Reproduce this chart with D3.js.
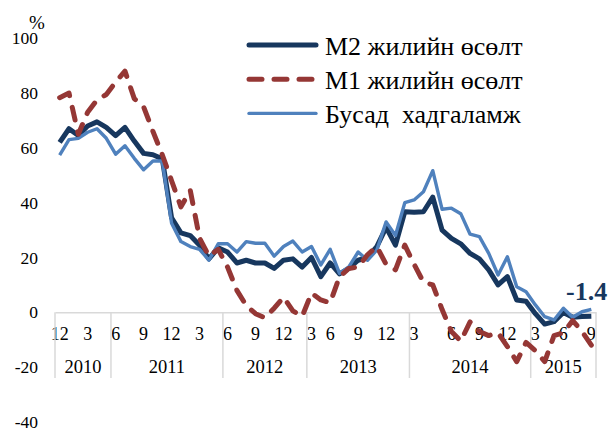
<!DOCTYPE html>
<meta charset="utf-8">
<style>

body {
  margin: 0;
  background: #fff;
}

text {
  font-family: "Liberation Serif", "Times New Roman", serif;
  fill: #000;
}

.axis path {
  fill: none;
  stroke: #d9d9d9;
  stroke-width: 1.5px;
}

.series {
  fill: none;
  stroke-linejoin: round;
}

</style>
<body>
<script src="https://cdn.jsdelivr.net/npm/d3@7"></script>
<script type="text/javascript">

// --------------------------- data --------------------------
// 58 monthly points, Dec 2009 .. Sep 2015 (grouped the way the source sheet groups them)
var m2 = [62, 67, 64.5, 68, 69.5, 67.5, 64.5, 67.5, 62.5, 58, 57.5, 56,
          34.5, 29, 28, 24.5, 19.5, 23.5, 22, 18, 19, 18, 18, 16,
          19, 19.5, 16.5, 20, 13, 18, 14, 16, 19, 20, 24, 31,
          24.5, 36.7, 36.5, 36.7, 42, 30, 27, 25, 21.5, 19.5, 15.5, 10,
          13, 4.5, 4, -0.5, -4.3, -3.4, -0.1, -1.8, -1.5, -1.4];

var m1 = [78.3, 80, 65, 73, 77.5, 79.5, 84, 88, 78, 75, 66, 57.5,
          48, 38.5, 44.5, 27, 20.5, 23, 16.5, 8, 2.5, -0.5, -2, 1.5,
          5.5, 0.5, -1.5, 7, 4.5, 3.5, 13, 16, 16.5, 21, 24, 17.5,
          15.5, 24.5, 17.5, 11, 10, 1, -7, -10.5, -3.5, -7, -8.5, -7.5,
          -12.5, -18, -11, -14, -18, -8.5, -7.5, -3, -7, -12];

var other = [57.4, 63, 63.5, 65.7, 67, 63.5, 57.7, 60.8, 56.2, 52, 55.2, 55.2,
             32.5, 25.8, 24, 23, 19, 25, 25, 22, 25.8, 25.2, 25.2, 20.5,
             24, 26, 22, 24, 17.3, 23, 14.2, 16.6, 22, 19, 22.7, 33,
             28, 40, 41, 44, 51.7, 37.6, 38, 36, 28.5, 27.6, 21.5, 13.6,
             20.3, 9.3, 7.5, 2.7, -1.6, -2.8, 1.5, -1.8, 0.2, 1.1];

// month labels that are shown, and the category they sit under
var tickAt   = [0, 3, 6, 9, 12, 15, 18, 21, 24, 27, 29, 32, 35, 38, 42, 45, 48, 51, 54, 57];
var tickText = ["12", "3", "6", "9", "12", "3", "6", "9", "12", "3", "6", "9", "12", "3", "6", "9", "12", "3", "6", "9"];

var years     = ["2010", "2011", "2012", "2013", "2014", "2015"];
var yearStart = [0, 6, 18, 27, 38, 51];

var yTicks = [-40, -20, 0, 20, 40, 60, 80, 100];

var seriesNames = ["M2 жилийн өсөлт", "M1 жилийн өсөлт", "Бусад  хадгаламж"];
var lastLabel = "-1.4";

// --------------------------- chart --------------------------
var width = 609, height = 428;
var n = m2.length;

var svg = d3.select("body").append("svg")
    .attr("width", width)
    .attr("height", height);

var x = d3.scaleBand()
    .domain(d3.range(n))
    .range([55, 596]);

var y = d3.scaleLinear()
    .domain([-40, 100])
    .range([421.9, 38.3]);

function cx(i) { return x(i) + x.bandwidth() / 2; }

// y labels only, no axis line (plain hyphen, as in the source)
var yAxis = svg.append("g")
    .attr("class", "y axis")
    .attr("transform", "translate(40,0)")
    .call(d3.axisLeft(y).tickValues(yTicks).tickSize(0).tickPadding(2)
      .tickFormat(function(d) { return String(d); }));
yAxis.attr("font-family", null);
yAxis.select(".domain").remove();
yAxis.selectAll("text")
    .style("font-size", "17.5px")
    .attr("dy", "0.32em");

svg.append("text")
    .attr("x", 29)
    .attr("y", 29)
    .style("font-size", "19px")
    .text("%");

// category axis sits on zero
var xAxis = svg.append("g")
    .attr("class", "x axis")
    .attr("transform", "translate(0," + y(0) + ")")
    .call(d3.axisBottom(x)
      .tickValues(tickAt)
      .tickFormat(function(d) { return tickText[tickAt.indexOf(d)]; })
      .tickSize(0));
xAxis.attr("font-family", null);
xAxis.selectAll("text")
    .attr("y", 21)
    .attr("dy", "0.35em")
    .style("font-size", "18px");

// year separators
var bounds = yearStart.concat([n]);
svg.append("g").selectAll("line")
    .data(bounds)
  .enter().append("line")
    .attr("x1", function(d) { return d < n ? x(d) : x(n - 1) + x.bandwidth(); })
    .attr("x2", function(d) { return d < n ? x(d) : x(n - 1) + x.bandwidth(); })
    .attr("y1", y(0))
    .attr("y2", 378)
    .style("stroke", "#d9d9d9")
    .style("stroke-width", 1.5);

svg.append("g").selectAll("text")
    .data(years)
  .enter().append("text")
    .attr("x", function(d, i) {
      var a = x(yearStart[i]);
      var b = i + 1 < years.length ? x(yearStart[i + 1]) : x(n - 1) + x.bandwidth();
      return (a + b) / 2;
    })
    .attr("y", 367)
    .attr("dy", "0.35em")
    .attr("text-anchor", "middle")
    .style("font-size", "18.5px")
    .text(function(d) { return d; });

// lines
var line = d3.line()
    .x(function(d, i) { return cx(i); })
    .y(function(d) { return y(d); });

var styles = [
  {data: m2, color: "#17375e", w: 5, dash: null},
  {data: other, color: "#4f81bd", w: 3.4, dash: null},
  {data: m1, color: "#953735", w: 5, dash: "13,12"}
];

svg.selectAll(".series")
    .data(styles)
  .enter().append("path")
    .attr("class", "series")
    .attr("d", function(d) { return line(d.data); })
    .style("stroke", function(d) { return d.color; })
    .style("stroke-width", function(d) { return d.w; })
    .style("stroke-linecap", function(d) { return d.dash ? "round" : "butt"; })
    .style("stroke-dasharray", function(d) { return d.dash; });

svg.append("text")
    .attr("x", 566)
    .attr("y", 300)
    .style("font-size", "26px")
    .style("font-weight", "bold")
    .style("fill", "#17375e")
    .text(lastLabel);

// legend
var legendStyles = [styles[0], styles[2], styles[1]];
var legend = svg.append("g").attr("class", "legend")
  .selectAll("g")
    .data(seriesNames)
  .enter().append("g")
    .attr("transform", function(d, i) { return "translate(0," + (45 + i * 34.2) + ")"; });

legend.append("line")
    .attr("x1", 249)
    .attr("x2", 316)
    .style("stroke", function(d, i) { return legendStyles[i].color; })
    .style("stroke-width", function(d, i) { return legendStyles[i].w; })
    .style("stroke-linecap", "round")
    .style("stroke-dasharray", function(d, i) { return legendStyles[i].dash; });

legend.append("text")
    .attr("x", 325)
    .attr("y", 10)
    .style("font-size", "26px")
    .style("white-space", "pre")
    .text(function(d) { return d; });

</script>
